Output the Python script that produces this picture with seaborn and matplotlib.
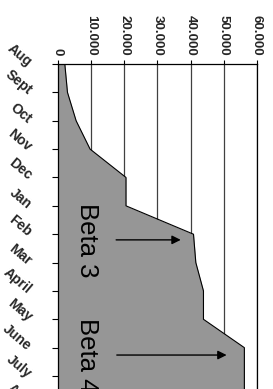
import matplotlib
matplotlib.use("Agg")
import matplotlib.pyplot as plt
import seaborn as sns

# beta downloads per month (chart is drawn rotated: months run down the page)
months = ["Aug", "Sept", "Oct", "Nov", "Dec", "Jan", "Feb", "Mar",
          "April", "May", "June", "July", "Aug"]
downloads = [2200, 3000, 5600, 9800, 20600, 20600, 40900, 41600,
             43900, 43900, 56200, 56200, 56200]
value_ticks = [0, 10000, 20000, 30000, 40000, 50000, 60000]

# annotations: label, month position, arrow start / end value
notes = [("Beta 3", 6.2, 16800, 37900), ("Beta 4", 10.26, 17000, 51700)]

sns.set_theme(style="white")
plt.rcParams["font.family"] = ["Liberation Sans", "DejaVu Sans"]

W, H = 273, 389
fig = plt.figure(figsize=(W / 100, H / 100), dpi=100)
top_px, bot_px, left_px, right_px = 64, 404.4, 57.5, 257
ax = fig.add_axes([left_px / W, 1 - bot_px / H,
                   (right_px - left_px) / W, (bot_px - top_px) / H])

idx = list(range(len(months)))
ax.fill_betweenx(idx, 0, downloads, color="#969696", lw=0, zorder=1)
sns.lineplot(x=downloads, y=idx, orient="y", sort=False, estimator=None,
             color="black", lw=0.8, ax=ax, zorder=2)

ax.set_xlim(0, 60000)
ax.set_ylim(len(months) - 1, 0)

ax.set_axisbelow(True)
ax.grid(axis="x", color="#404040", lw=0.9)
ax.grid(axis="y", visible=False)

ax.xaxis.tick_top()
ax.set_xticks(value_ticks)
ax.set_xticklabels([f"{v:,}".replace(",", ".") for v in value_ticks],
                   rotation=-90, fontsize=9.5, fontweight="bold", va="bottom")
ax.tick_params(axis="x", top=True, bottom=False, direction="out",
               length=3, width=0.8, color="black", pad=3)

ax.set_yticks(idx)
ax.set_yticklabels(months, rotation=-40, fontsize=10, fontweight="bold",
                   ha="right", va="center", rotation_mode="anchor")
ax.tick_params(axis="y", left=True, direction="out", length=4,
               width=0.8, color="black", pad=16)

for side in ["top", "left", "right"]:
    ax.spines[side].set_color("black")
    ax.spines[side].set_linewidth(0.9)
ax.spines["bottom"].set_visible(False)
ax.set_xlabel("")
ax.set_ylabel("")

for label, ypos, x0, x1 in notes:
    ax.text(8900, ypos, label, rotation=-90, fontsize=18.5,
            ha="center", va="center", color="black", zorder=3)
    ax.annotate("", xy=(x1, ypos), xytext=(x0, ypos),
                arrowprops=dict(arrowstyle="-|>", color="black", lw=1,
                                mutation_scale=13), zorder=3)

fig.savefig("out.png", dpi=100)
